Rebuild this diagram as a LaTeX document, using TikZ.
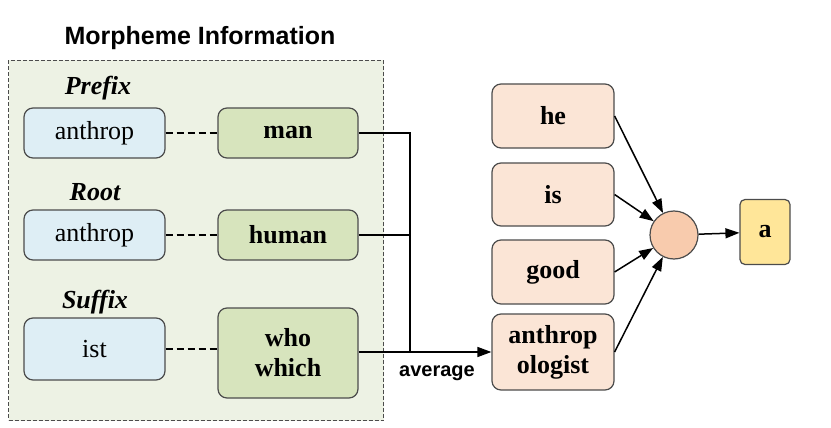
\documentclass[tikz,border=0pt]{standalone}
\usepackage{fontspec}
\setmainfont{Liberation Serif}
\setsansfont{Liberation Sans}
\usetikzlibrary{arrows.meta}
\definecolor{cblue}{RGB}{222,238,245}
\definecolor{cgreen}{RGB}{215,228,189}
\definecolor{cframe}{RGB}{237,242,228}
\definecolor{cpeach}{RGB}{251,229,214}
\definecolor{ccirc}{RGB}{248,203,173}
\definecolor{cyel}{RGB}{255,230,153}
\begin{document}
\begin{tikzpicture}[x=1pt,y=-1pt,
  base/.style={draw=black!70,line width=1.2pt,rounded corners=9pt,align=center,inner sep=0pt},
  bluebox/.style={base,fill=cblue,minimum width=141pt,font=\fontsize{26}{28}\selectfont},
  greenbox/.style={base,fill=cgreen,minimum width=140pt,font=\fontsize{26}{30}\selectfont\bfseries},
  peachbox/.style={base,fill=cpeach,minimum width=122pt,font=\fontsize{26}{30}\selectfont\bfseries},
  lab/.style={font=\fontsize{26}{28}\selectfont\bfseries\itshape},
  dline/.style={dash pattern=on 7pt off 4pt,line width=1.5pt},
  arr/.style={-{Triangle[length=14pt,width=10pt]},line width=1.5pt}]
\useasboundingbox (0,0) rectangle (831,428);
\node[draw=black!70,dash pattern=on 4pt off 2pt,fill=cframe,minimum width=375pt,minimum height=360pt,anchor=north west,line width=1pt] (frame) at (8,60) {};
\node[font=\sffamily\bfseries\fontsize{25}{27}\selectfont] (title) at (200,38) {Morpheme Information};
\node[lab] (pre) at (98,88) {Prefix};
\node[lab] (root) at (95,192) {Root};
\node[lab] (suf) at (95,302) {Suffix};
\node[bluebox,minimum height=50pt] (b1) at (94.5,133) {anthrop};
\node[bluebox,minimum height=50pt] (b2) at (94.5,235) {anthrop};
\node[bluebox,minimum height=62pt] (b3) at (94.5,349) {ist};
\node[greenbox,minimum height=50pt] (g1) at (288,133) {man};
\node[greenbox,minimum height=50pt] (g2) at (288,235) {human};
\node[greenbox,minimum height=90pt] (g3) at (288,353) {who\\which};
\draw[dline] (b1) -- (g1);
\draw[dline] (b2) -- (g2);
\draw[dline] (b3.east) -- (b3.east -| g3.west);
\node[peachbox,minimum height=64pt] (p1) at (553,116) {he};
\node[peachbox,minimum height=63pt] (p2) at (553,194.5) {is};
\node[peachbox,minimum height=64pt] (p3) at (553,272) {good};
\node[peachbox,minimum height=76pt] (p4) at (553,352) {anthrop\\ologist};
\coordinate (j) at (410,352);
\draw[line width=1.5pt] (g1.east) -| (j);
\draw[line width=1.5pt] (g2.east) -- (g2.east -| j);
\draw[arr] (g3.east |- j) -- (p4.west);
\node[font=\sffamily\bfseries\fontsize{20}{22}\selectfont] (avg) at (437,373) {average};
\node[circle,draw=black!70,fill=ccirc,minimum size=48pt,line width=1.2pt] (c) at (674,235) {};
\foreach \p in {p1,p2,p3,p4} \draw[arr] (\p.east) -- (c);
\node[base,rounded corners=5pt,fill=cyel,minimum width=50pt,minimum height=65pt,font=\fontsize{26}{28}\selectfont\bfseries] (a) at (765,232) {a};
\draw[arr] (c) -- (a);
\end{tikzpicture}
\end{document}
